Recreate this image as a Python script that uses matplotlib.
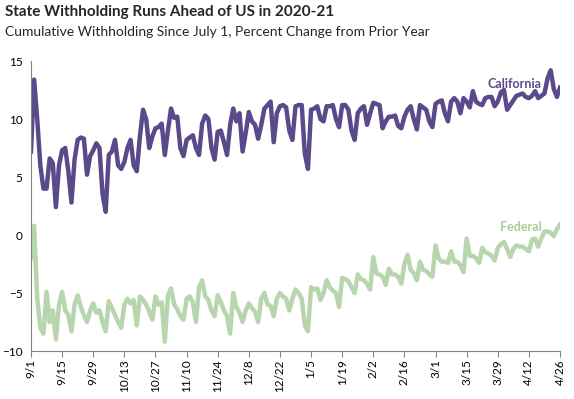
import matplotlib
matplotlib.use("Agg")
import matplotlib.pyplot as plt
import numpy as np

TICK_FONTSIZE = 8.5
FONT = ["Lato", "DejaVu Sans"]
purple = "#5b4a8b"
green = "#b8d6ae"

tick_labels = ["9/1", "9/15", "9/29", "10/13", "10/27", "11/10", "11/24", "12/8",
               "12/22", "1/5", "1/19", "2/2", "2/16", "3/1", "3/15", "3/29",
               "4/12", "4/26"]

# one value per business day, 9/1/2020 .. 4/26/2021
california = [
    7.2, 13.4, 10.0, 6.0, 4.0, 4.0, 6.6, 6.2, 2.4, 6.0,
    7.3, 7.5, 5.5, 2.8, 6.5, 8.2, 8.4, 8.3, 5.2, 6.8,
    7.3, 7.9, 7.5, 3.5, 2.0, 6.9, 7.2, 8.2, 6.0, 5.7,
    6.3, 7.5, 8.2, 6.0, 5.5, 8.5, 10.8, 10.0, 7.5, 8.5,
    9.2, 9.3, 9.6, 6.9, 9.0, 10.9, 10.1, 10.2, 7.5, 6.8,
    8.2, 8.4, 8.6, 7.5, 6.9, 9.6, 10.3, 10.0, 7.5, 6.5,
    8.9, 9.0, 8.0, 6.9, 9.5, 10.9, 9.8, 10.5, 7.2, 8.8,
    10.6, 9.8, 9.5, 8.3, 9.5, 10.9, 11.2, 11.5, 8.0, 10.5,
    11.1, 11.2, 11.0, 9.0, 8.2, 11.1, 11.2, 11.2, 7.0, 5.7,
    10.8, 10.9, 11.1, 10.0, 9.8, 11.1, 11.1, 11.2, 10.0, 9.3,
    11.2, 11.2, 10.8, 9.0, 8.2, 10.5, 10.9, 11.1, 9.5, 10.5,
    11.4, 11.3, 11.2, 9.2, 9.8, 10.2, 10.2, 10.3, 9.4, 9.2,
    10.2, 10.8, 11.1, 10.0, 9.1, 11.2, 11.0, 10.8, 9.8, 9.3,
    11.3, 11.5, 11.6, 10.5, 9.8, 11.5, 11.8, 11.5, 10.5, 11.8,
    11.5, 11.0, 12.4, 11.5, 11.3, 11.2, 11.8, 11.9, 11.9, 11.1,
    11.5, 12.3, 12.5, 10.8, 11.2, 11.6, 12.0, 12.1, 12.2, 11.9,
    11.8, 12.0, 12.4, 11.8, 12.0, 12.2, 13.5, 14.2, 12.6, 11.9,
    12.7,
]
federal = [
    -2.0, 0.8, -5.5, -8.0, -8.5, -4.9, -7.5, -6.5, -9.0, -6.0,
    -4.9, -6.5, -6.9, -8.3, -6.0, -5.2, -6.2, -6.9, -7.5, -6.5,
    -5.9, -6.7, -6.5, -7.5, -8.3, -5.7, -6.3, -6.9, -7.5, -8.0,
    -6.0, -5.5, -5.9, -5.6, -7.8, -5.3, -5.6, -6.0, -6.6, -7.3,
    -5.3, -6.0, -5.8, -9.2, -5.2, -4.6, -6.0, -6.4, -7.0, -7.3,
    -5.5, -5.3, -5.8, -7.5, -4.5, -3.9, -5.3, -5.6, -6.5, -7.0,
    -5.2, -5.8, -6.5, -7.0, -8.5, -5.0, -6.2, -6.7, -7.5, -6.5,
    -5.9, -6.3, -6.6, -7.5, -5.5, -5.0, -6.0, -6.1, -7.0, -5.5,
    -5.0, -5.3, -5.5, -6.5, -5.5, -4.7, -5.0, -5.5, -7.8, -8.3,
    -4.5, -4.7, -4.6, -5.6, -5.0, -3.9, -4.5, -4.8, -5.0, -6.2,
    -3.7, -3.8, -4.0, -4.5, -5.0, -3.4, -3.8, -3.9, -4.2, -4.7,
    -1.9, -3.3, -3.4, -3.6, -4.3, -2.9, -3.4, -3.4, -3.6, -4.2,
    -2.5, -1.7, -3.0, -3.3, -3.9, -2.3, -3.0, -3.1, -3.4, -3.6,
    -0.9, -2.0, -2.3, -2.3, -2.4, -1.4, -2.3, -2.3, -2.6, -3.2,
    -0.3, -1.8, -1.8, -2.0, -2.4, -1.1, -1.5, -1.6, -1.8, -2.2,
    -1.1, -0.8, -0.6, -1.2, -1.9, -1.2, -0.9, -1.0, -1.0, -1.2,
    -1.4, -0.4, -0.3, -1.0, -0.3, 0.3, 0.3, 0.2, -0.1, 0.5,
    0.9,
]

fig = plt.figure(figsize=(5.74, 3.99), dpi=100)
ax = fig.add_axes([31 / 574, 48 / 399, 529 / 574, 290 / 399])

x = np.arange(len(california))
ax.plot(x, federal, color=green, lw=3.2, solid_joinstyle="round")
ax.plot(x, california, color=purple, lw=3.2, solid_joinstyle="round")

ax.set_xlim(0, len(california) - 1)
ax.set_ylim(-10, 15)
ax.set_yticks([-10, -5, 0, 5, 10, 15])
ax.set_xticks(x[::10])
ax.set_xticklabels(tick_labels, rotation=90, fontsize=TICK_FONTSIZE, family=FONT)
plt.setp(ax.get_yticklabels(), fontsize=TICK_FONTSIZE, family=FONT)

for side in ["top", "right"]:
    ax.spines[side].set_visible(False)
for side in ["left", "bottom"]:
    ax.spines[side].set_color("#868686")
ax.tick_params(axis="x", direction="out", length=4, color="#868686", pad=2)
ax.tick_params(axis="y", length=0, pad=6)

ax.text(164, 13.0, "California", color=purple, fontsize=9, fontweight="bold",
        family=FONT, ha="right", va="center")
ax.text(164, 0.7, "Federal", color="#a8cc98", fontsize=9, fontweight="bold",
        family=FONT, ha="right", va="center")

fig.text(5 / 574, 1 - 12 / 399, "State Withholding Runs Ahead of US in 2020-21",
         fontsize=11, fontweight="bold", family=FONT, va="center", color="#262626")
fig.text(5 / 574, 1 - 32 / 399,
         "Cumulative Withholding Since July 1, Percent Change from Prior Year",
         fontsize=10, family=FONT, va="center", color="#262626")

plt.savefig("out.png", dpi=100)
